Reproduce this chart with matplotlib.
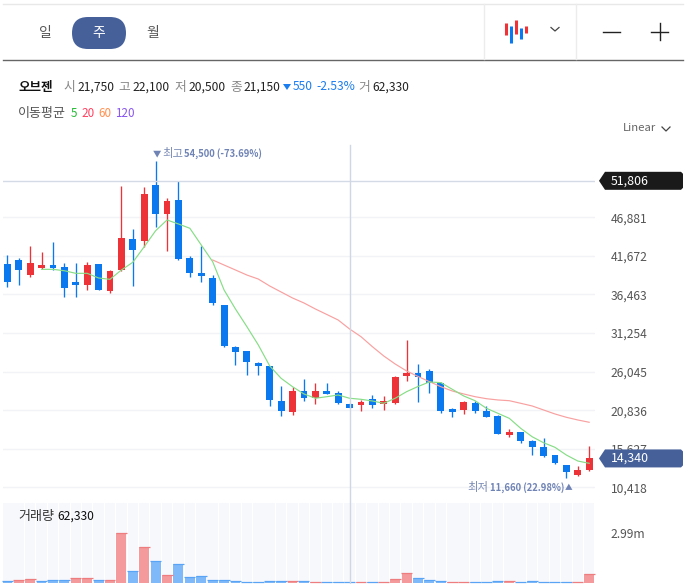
import numpy as np
import matplotlib
matplotlib.use('Agg')
import matplotlib.pyplot as plt
from matplotlib.patches import Polygon, FancyBboxPatch

plt.rcParams['font.family'] = ['Noto Sans CJK KR', 'DejaVu Sans']

# weekly candles
opens = [40580, 41120, 39090, 40040, 40440, 40170, 38150, 37740, 40580, 36930,
         39770, 43950, 43680, 51240, 47330, 49220, 41390, 39360, 38690, 35060,
         29380, 28840, 27220, 26820, 22090, 20610, 23440, 22500, 23440, 23170,
         21750, 21550, 22360, 21690, 21820, 25460, 25870, 26140, 24520, 21010,
         20880, 21820, 20740, 20070, 17500, 17910, 16690, 15880, 14800, 13450,
         12100, 12770]
highs = [41790, 41390, 43040, 42200, 43550, 40710, 40670, 40850, 40580, 39770,
         51100, 45270, 51010, 54500, 49440, 51780, 41660, 43010, 39090, 35060,
         29510, 28840, 27350, 26820, 24120, 24020, 25060, 24520, 24520, 23440,
         21820, 22230, 22900, 22770, 25460, 30280, 27080, 26410, 24660, 21150,
         22090, 22090, 21420, 20200, 18310, 17910, 16830, 17100, 14800, 13450,
         13310, 16080]
lows = [37510, 37700, 38790, 39900, 39770, 36130, 36170, 37070, 37070, 36660,
        39630, 37610, 42870, 45530, 42330, 41120, 38820, 38150, 34980, 29420,
        26990, 25640, 25560, 21420, 20070, 20230, 22130, 21690, 23040, 21730,
        21150, 20740, 21150, 20880, 21690, 24830, 21920, 23130, 20470, 19890,
        20340, 20470, 19930, 17640, 17190, 16460, 14800, 14530, 13580, 11660,
        12000, 12640]
closes = [38150, 39770, 40710, 40440, 40040, 37340, 37740, 40440, 37070, 39630,
          44090, 42470, 50030, 47330, 49080, 41250, 39360, 38960, 35320, 29560,
          28700, 27350, 26820, 22230, 20740, 23440, 22500, 23440, 23040, 21820,
          21150, 21960, 21550, 22090, 25330, 25870, 25330, 24520, 20740, 20610,
          21960, 20740, 19930, 17640, 17910, 16690, 15880, 14670, 13720, 12500,
          12770, 14340]

ma5 = [39860, 39860, 39670, 39320, 39320, 38690, 38510, 39770, 40810, 42910,
       45070, 46520, 45980, 45400, 43140, 40890, 37070, 34500, 32120, 29650,
       26820, 25150, 24020, 23040, 22460, 22670, 22900, 22460, 22320, 22090,
       21780, 22460, 23350, 24050, 24660, 24570, 23670, 22770, 22130, 21100,
       20430, 19750, 18400, 17270, 16460, 15840, 14800, 13990, 13680]
ma20 = [41120, 40440, 39770, 39090, 38550, 37610, 36800, 35990, 35320, 34510,
        33770, 33020, 31810, 30770, 29420, 28160, 27080, 26140, 25400, 24700,
        24020, 23440, 23040, 22670, 22400, 22230, 22130, 21780, 21420, 20880,
        20340, 19890, 19530, 19220]

volumes = [120000, 179000, 239000, 120000, 179000, 179000, 299000, 299000, 179000, 179000,
           2990000, 717000, 2152000, 1315000, 478000, 1136000, 359000, 419000, 179000, 179000,
           120000, 60000, 60000, 120000, 120000, 120000, 120000, 60000, 60000, 60000,
           62330, 60000, 60000, 60000, 239000, 598000, 299000, 179000, 120000, 60000,
           60000, 60000, 60000, 120000, 120000, 60000, 120000, 60000, 60000, 60000,
           60000, 538000]
volume_up = [0, 1, 1, 0, 0, 0, 1, 1, 0, 1,
             1, 0, 1, 0, 1, 0, 0, 0, 0, 0,
             0, 0, 0, 0, 0, 1, 0, 1, 0, 0,
             0, 1, 0, 1, 1, 1, 0, 0, 0, 1,
             1, 0, 0, 0, 1, 0, 0, 0, 0, 0,
             1, 1]

price_ticks = [46881, 41672, 36463, 31254, 26045, 20836, 15627, 10418]
price_labels = ['46,881', '41,672', '36,463', '31,254', '26,045', '20,836', '15,627', '10,418']
scale_high = 51806
last_close = 14340
cross_idx = 30

RED = '#ee3338'
BLUE = '#0a78ee'
NAVY = '#46609a'
W, H = 693, 584
x = np.arange(len(closes))


def axes_px(x0, y0, x1, y1):
    return fig.add_axes([x0 / W, 1 - y1 / H, (x1 - x0) / W, (y1 - y0) / H])


fig = plt.figure(figsize=(W / 100, H / 100), dpi=100)

# price panel
ax = axes_px(3, 135, 595, 495)
ax.set_xlim(-0.377, 51.51)
ax.set_ylim(9404, 57988)
for s in ax.spines.values():
    s.set_visible(False)
ax.yaxis.tick_right()
ax.set_yticks(price_ticks)
ax.set_yticklabels(price_labels)
ax.tick_params(axis='y', length=0, pad=11.5, labelsize=8.7, labelcolor='#555555')
ax.set_xticks([])
ax.grid(axis='y', color='#f1f3f6', lw=1)
ax.set_axisbelow(True)

colors = [RED if c >= o else BLUE for o, c in zip(opens, closes)]
ax.vlines(x, lows, highs, colors=colors, lw=0.95)
ax.bar(x, np.abs(np.array(closes) - np.array(opens)), bottom=np.minimum(opens, closes),
       width=0.6, color=colors)
ax.plot(x[-len(ma20):], ma20, color='#f9a0a0', lw=0.85)
ax.plot(x[-len(ma5):], ma5, color='#86dd86', lw=0.85)
ax.axhline(scale_high, color='#d5dbe6', lw=1)

# volume panel
vax = axes_px(3, 503, 595, 583)
vax.set_xlim(-0.377, 51.51)
vmax = 4784000
vax.set_ylim(0, vmax)
for s in vax.spines.values():
    s.set_visible(False)
vax.bar(x, [vmax] * len(x), width=0.92, color='#f7f8fc')
vol_fill = ['#f49a9c' if u else '#80b9f9' for u in volume_up]
vol_top = ['#ee7d80' if u else '#5aa4f5' for u in volume_up]
vax.bar(x, volumes, width=0.87, color=vol_fill)
vax.scatter(x, volumes, marker='_', s=62, c=vol_top, lw=0.9, clip_on=False)
vax.yaxis.tick_right()
vax.set_yticks([2990000])
vax.set_yticklabels(['2.99m'])
vax.tick_params(axis='y', length=0, pad=11.5, labelsize=8.7, labelcolor='#555555')
vax.set_xticks([])

# page chrome, in pixel coordinates
ov = fig.add_axes([0, 0, 1, 1])
ov.set_xlim(0, W)
ov.set_ylim(H, 0)
ov.axis('off')
ov.patch.set_alpha(0)


def to_px(xv, yv):
    return ov.transData.inverted().transform(ax.transData.transform((xv, yv)))


def label(px, py, s, color='#222222', size=8.7, weight='normal', ha='left'):
    ov.text(px, py + 1, s, color=color, fontsize=size, fontweight=weight, ha=ha, va='center')


ov.plot([3, 683], [3.5, 3.5], color='#e8e8e8', lw=1)
ov.plot([3, 683], [59.5, 59.5], color='#666666', lw=1)
ov.plot([483.5, 483.5], [4, 59], color='#ececec', lw=1)
ov.plot([575.5, 575.5], [4, 59], color='#ececec', lw=1)

ov.add_patch(FancyBboxPatch((72, 17), 54, 32, boxstyle='round,pad=0,rounding_size=16',
                            fc=NAVY, ec='none'))
label(45.5, 32.5, '일', '#555555', 10, ha='center')
label(99, 32.5, '주', 'white', 10, ha='center')
label(153, 32.5, '월', '#555555', 10, ha='center')

# candle icon and zoom buttons
for bx, y0, y1, c in [(505.5, 23, 35, RED), (510.5, 26, 43, BLUE), (515.5, 20, 34, RED),
                      (520.5, 28, 39, BLUE), (525.5, 26, 33, RED)]:
    ov.plot([bx, bx], [y0, y1], color=c, lw=2.2, solid_capstyle='butt')
ov.plot([551, 555, 559], [27.5, 31, 27.5], color='#444444', lw=0.9)
ov.plot([603, 620], [31.5, 31.5], color='#222222', lw=1)
ov.plot([651, 668], [31.5, 31.5], color='#222222', lw=1)
ov.plot([659.5, 659.5], [23, 40], color='#222222', lw=1)

# info row
label(18, 86, '오브젠', '#111111', 9, 'bold')
label(63, 86, '시', '#888888', 9.2)
label(77, 86, '21,750', weight='medium')
label(118, 86, '고', '#888888', 9.2)
label(132, 86, '22,100', weight='medium')
label(174, 86, '저', '#888888', 9.2)
label(188, 86, '20,500', weight='medium')
label(230, 86, '종', '#888888', 9.2)
label(243, 86, '21,150', weight='medium')
ov.add_patch(Polygon([[283, 84], [291, 84], [287, 90]], fc='#1a7df0', ec='none'))
label(293, 86, '550', '#1a7df0', weight='medium')
label(316, 86, '-2.53%', '#1a7df0', weight='medium')
label(358, 86, '거', '#888888', 9.2)
label(372, 86, '62,330', weight='medium')

label(18, 112.5, '이동평균', '#555555', 9.4)
label(71, 112.5, '5', '#22bb33', 8.4)
label(81, 112.5, '20', '#ff4060', 8.4)
label(98, 112.5, '60', '#ff9050', 8.4)
label(115, 112.5, '120', '#8855ee', 8.4)

label(623, 127, 'Linear', '#666666', 8.2)
ov.plot([662, 666, 670], [127, 131, 127], color='#444444', lw=0.9)

# crosshair
cx = to_px(cross_idx, 0)[0]
ov.plot([cx, cx], [145, 583], color='#cfd6e4', lw=1)

# high and low notes
label(153, 153, '▼', '#6f83b5', 6)
label(162, 153, '최고', '#7a8bb5', 8.2)
label(184, 153, '54,500 (-73.69%)', '#6f83b5', 6.8, 'bold')
label(467, 487, '최저', '#7a8bb5', 8.2)
label(490, 487, '11,660 (22.98%)', '#6f83b5', 6.8, 'bold')
label(565, 487, '▲', '#6f83b5', 5.5)

label(18, 515.5, '거래량', '#333333', 9.4)
label(57, 515.5, '62,330', '#111111', weight='medium')


# price tags at the right edge
def tag(price, txt, color):
    py = to_px(0, price)[1]
    ov.add_patch(Polygon([[599, py], [605, py - 9], [681, py - 9], [683, py - 7], [683, py + 7],
                          [681, py + 9], [605, py + 9]], fc=color, ec='none', zorder=5))
    ov.text(611, py, txt, color='white', fontsize=8.9, va='center', zorder=6)


tag(scale_high, '51,806', '#1a1a1a')
tag(last_close, '14,340', NAVY)

fig.savefig('out.png', dpi=100)
